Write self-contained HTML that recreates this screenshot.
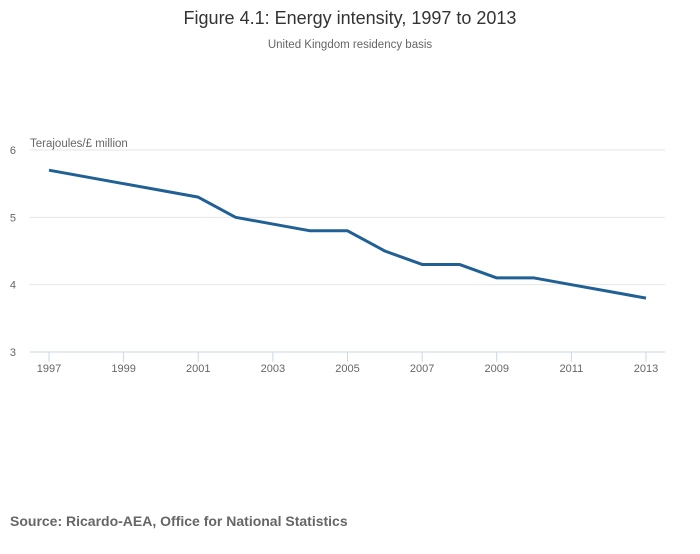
<!DOCTYPE html>
<html><head><meta charset="utf-8"><style>
body{margin:0;background:#fff;font-family:"Liberation Sans",sans-serif;}
svg text{font-family:"Liberation Sans",sans-serif;}
</style></head><body>
<svg width="700" height="549">
<text x="350" y="24" text-anchor="middle" font-size="18" fill="#333">Figure 4.1: Energy intensity, 1997 to 2013</text>
<text x="350" y="48" text-anchor="middle" font-size="11.5" fill="#666">United Kingdom residency basis</text>
<text x="30" y="147" font-size="11.5" fill="#666">Terajoules/£ million</text>
<g id="grid"></g><g id="xaxis"></g>
<path id="line" fill="none" stroke="#206095" stroke-width="3" stroke-linejoin="round"/>
<text x="10" y="526" font-size="14" font-weight="bold" fill="#666">Source: Ricardo-AEA, Office for National Statistics</text>
</svg>
<script>
const years=[1997,1998,1999,2000,2001,2002,2003,2004,2005,2006,2007,2008,2009,2010,2011,2012,2013];
const values=[5.7,5.6,5.5,5.4,5.3,5.0,4.9,4.8,4.8,4.5,4.3,4.3,4.1,4.1,4.0,3.9,3.8];
const yTicks=[3,4,5,6];
const xTicks=[1997,1999,2001,2003,2005,2007,2009,2011,2013];
const NS='http://www.w3.org/2000/svg';
const x=v=>49+(v-1997)*(646-49)/16;
const y=v=>352-(v-3)*(352-150)/3;
const g=document.getElementById('grid'),xa=document.getElementById('xaxis');
function mk(tag,attrs,parent,txt){const e=document.createElementNS(NS,tag);for(const k in attrs)e.setAttribute(k,attrs[k]);if(txt!==undefined)e.textContent=txt;parent.appendChild(e);return e;}
yTicks.forEach(t=>{
 const l=mk('line',{x1:30,x2:665,y1:y(t),y2:y(t),stroke:t===3?'#ccd6e6':'#e6e6e6'},g);
 
 
 const tx=mk('text',{x:16,y:y(t)+4,'text-anchor':'end','font-size':11,fill:'#666'},g,t);
 
 
});
xTicks.forEach(t=>{
 const l=mk('line',{x1:x(t),x2:x(t),y1:352,y2:362,stroke:'#ccd6e6'},xa);
 
 
 const tx=mk('text',{x:x(t),y:372,'text-anchor':'middle','font-size':11,fill:'#666'},xa,t);
 
 
});
document.getElementById('line').setAttribute('d',years.map((yr,i)=>(i?'L':'M')+x(yr)+','+y(values[i])).join(''));
</script>
</body></html>
